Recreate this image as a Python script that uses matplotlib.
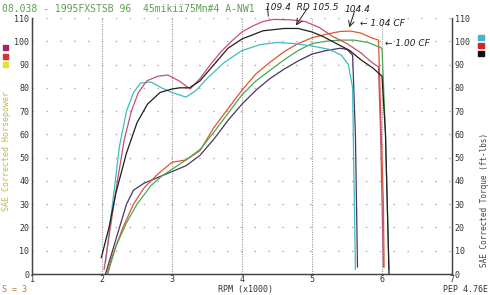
import matplotlib
matplotlib.use("Agg")
import matplotlib.pyplot as plt
from matplotlib.patches import Rectangle

# run 1 (cyan torque / magenta hp), run 2 (red, CF 1.04), run 3 (black torque / yellow hp, CF 1.00)
rpm_tq1 = [2.05, 2.15, 2.25, 2.35, 2.45, 2.55, 2.7, 2.85, 3.0, 3.2, 3.35, 3.5, 3.75, 4.0, 4.25, 4.5, 4.75, 5.0, 5.25, 5.42, 5.52, 5.58, 5.6, 5.62]
tq1 = [5, 30, 55, 70, 78, 82, 82.5, 80, 78, 76, 79, 84, 91, 96, 98.5, 99.5, 99, 98, 96.5, 94, 90, 80, 40, 2]
rpm_hp1 = [2.05, 2.15, 2.25, 2.35, 2.45, 2.6, 2.8, 3.0, 3.2, 3.4, 3.6, 3.8, 4.0, 4.2, 4.4, 4.6, 4.8, 5.0, 5.2, 5.4, 5.5, 5.58, 5.62, 5.65]
hp1 = [0, 10, 20, 30, 36, 39, 41.5, 44, 46.5, 51, 58, 66, 73, 79, 84, 88, 91.5, 94.5, 96, 97, 96.5, 94, 60, 3]

rpm_tq2 = [2.03, 2.12, 2.22, 2.32, 2.42, 2.52, 2.64, 2.8, 2.94, 3.1, 3.26, 3.4, 3.55, 3.7, 3.85, 4.0, 4.15, 4.3, 4.45, 4.7, 4.9, 5.1, 5.3, 5.5, 5.7, 5.85, 5.95, 5.98, 6.02]
tq2 = [2, 20, 40, 58, 70, 78, 83, 85, 85.5, 83, 79.5, 84, 90, 95.5, 100, 104, 106.5, 108.5, 109.4, 109.2, 108.5, 106, 102, 99, 95, 91, 89, 60, 3]
rpm_hp2 = [2.07, 2.15, 2.3, 2.45, 2.6, 2.8, 3.0, 3.2, 3.4, 3.6, 3.8, 4.0, 4.2, 4.4, 4.6, 4.8, 5.0, 5.2, 5.4, 5.55, 5.7, 5.85, 5.95, 5.98, 6.02, 6.03]
hp2 = [0, 8, 20, 30, 37, 43, 48, 49, 53, 63, 71, 79, 86, 91, 95.5, 99, 101.5, 103, 104.2, 104.4, 103.5, 101.5, 100.5, 70, 30, 3]

rpm_tq3 = [1.99, 2.1, 2.2, 2.35, 2.5, 2.65, 2.83, 3.0, 3.11, 3.25, 3.4, 3.6, 3.8, 4.0, 4.3, 4.6, 4.8, 5.0, 5.16, 5.35, 5.54, 5.7, 5.87, 6.0, 6.05, 6.1]
tq3 = [7, 20, 35, 52, 65, 73, 78, 79.5, 80, 80, 83, 90, 97, 101, 104.5, 105.5, 105.5, 104, 102, 99, 96, 92, 88.5, 85, 60, 0]
rpm_hp3 = [2.08, 2.2, 2.35, 2.5, 2.7, 2.85, 3.0, 3.2, 3.4, 3.6, 3.8, 4.0, 4.2, 4.4, 4.6, 4.8, 5.0, 5.2, 5.4, 5.6, 5.8, 6.0, 6.05, 6.1]
hp3 = [0, 12, 22, 30, 38, 42, 45, 49, 53.5, 61, 69, 77, 83, 87.5, 92, 96, 99, 100, 100.5, 100.5, 99.5, 97, 60, 2]

x_ticks = [1, 2, 3, 4, 5, 6, 7]
y_ticks = list(range(0, 111, 10))

mono = 'DejaVu Sans Mono'

fig = plt.figure(figsize=(4.9, 2.95), dpi=100)
ax = fig.add_axes([32/490, 21/295, 420/490, 256/295])
ax2 = ax.twinx()

for a in (ax, ax2):
    a.set_xlim(1, 7)
    a.set_ylim(0, 110)
    a.spines['top'].set_visible(False)
    for s in a.spines.values():
        s.set_color('#444444')
        s.set_linewidth(0.9)

ax.set_xticks(x_ticks)
ax.set_xticklabels([str(t) for t in x_ticks], fontsize=6, family=mono, color='#333333')
ax.set_yticks(y_ticks)
ax.set_yticklabels([str(t) for t in y_ticks], fontsize=6, family=mono, color='#333333')
ax2.set_yticks(y_ticks)
ax2.set_yticklabels([str(t) for t in y_ticks], fontsize=6, family=mono, color='#333333')
ax.tick_params(axis='x', length=0, pad=0.5)
ax.tick_params(axis='y', length=0, pad=2)
ax2.tick_params(length=0, pad=2)

# dotted grid: dense at each 1000 rpm, sparse dots along each 10 level
for xv in x_ticks[1:-1]:
    ax.axvline(xv, color='#999999', lw=0.8, ls=(0, (1, 1.2)), zorder=0)
for yv in y_ticks[1:]:
    ax.axhline(yv, color='#aaaaaa', lw=1.0, ls=(0, (1, 9)), zorder=0)

ax.plot(rpm_hp1, hp1, color='#4a3560', lw=0.9)
ax.plot(rpm_hp2, hp2, color='#e0562e', lw=0.9)
ax.plot(rpm_hp3, hp3, color='#4fa458', lw=0.9)
ax2.plot(rpm_tq1, tq1, color='#3cbcc4', lw=0.9)
ax2.plot(rpm_tq2, tq2, color='#c8506e', lw=0.9)
ax2.plot(rpm_tq3, tq3, color='#1e1e1e', lw=0.9)

ax.set_ylabel('SAE Corrected Horsepower', fontsize=6, family=mono, color='#c8b44a')
ax.yaxis.set_label_coords(-0.049, 0.48)
ax2.set_ylabel('SAE Corrected Torque (ft-lbs)', fontsize=5.5, family=mono, color='#444444')
ax2.yaxis.set_label_coords(1.067, 0.29)

fig.text(0.005, 0.985, '08.038 - 1995FXSTSB 96  45mikiï75Mn#4 A-NW1', fontsize=7, family=mono,
         color='#5f9f52', va='top', ha='left')
fig.text(0.5, 0.003, 'RPM (x1000)', fontsize=6, family=mono, color='#333333', ha='center', va='bottom')
fig.text(0.005, 0.003, 'S = 3', fontsize=6, family=mono, color='#b08040', ha='left', va='bottom')
fig.text(0.995, 0.003, 'PEP 4.76E', fontsize=6, family=mono, color='#333333', ha='right', va='bottom')

# run colour keys
for yp, c in zip([47, 56, 64], ['#a8206e', '#d03a28', '#e2e038']):
    fig.patches.append(Rectangle((3/490, 1 - (yp + 3)/295), 5/490, 5/295, color=c, transform=fig.transFigure))
for yp, c in zip([37, 45, 53], ['#40b4d4', '#d02828', '#111111']):
    fig.patches.append(Rectangle((478/490, 1 - (yp + 3)/295), 6/490, 5/295, color=c, transform=fig.transFigure))

# handwritten notes
hand = dict(fontsize=6.5, style='italic', color='#222222', family='DejaVu Sans')
fig.text(265/490, 1 - 8/295, '109.4  RD 105.5', va='center', **hand)
fig.text(345/490, 1 - 9/295, '104.4', va='center', **hand)
fig.text(360/490, 1 - 24/295, '\u2190 1.04 CF', va='center', **hand)
fig.text(385/490, 1 - 44/295, '\u2190 1.00 CF', va='center', **hand)
ax2.annotate('', xy=(4.38, 109.6), xytext=(4.36, 116), annotation_clip=False,
             arrowprops=dict(arrowstyle='-', color='#222222', lw=0.7))
ax2.annotate('', xy=(4.75, 105.8), xytext=(4.95, 115), annotation_clip=False,
             arrowprops=dict(arrowstyle='->', color='#222222', lw=0.7))
ax2.annotate('', xy=(5.52, 104.8), xytext=(5.62, 114), annotation_clip=False,
             arrowprops=dict(arrowstyle='->', color='#222222', lw=0.7))

fig.savefig('out.png', dpi=100)
